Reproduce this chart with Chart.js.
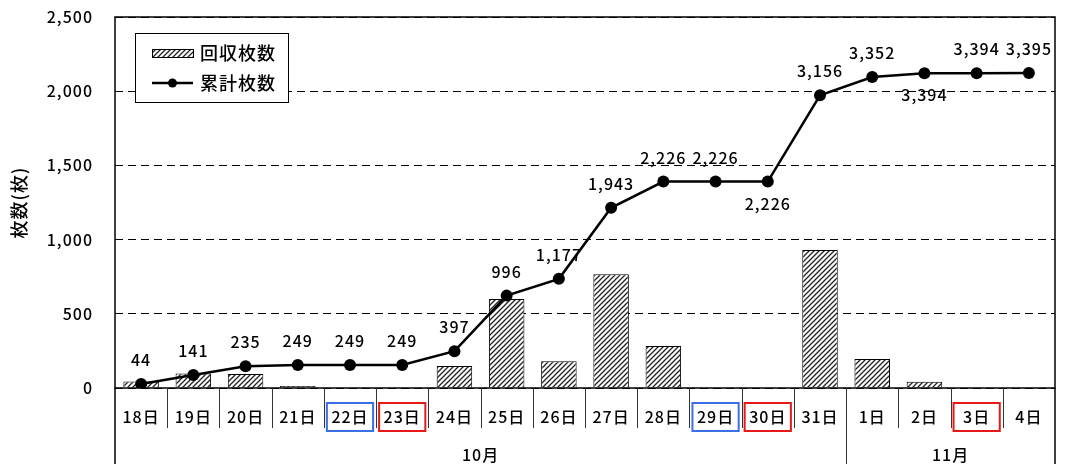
<!DOCTYPE html>
<html lang="ja">
<head>
<meta charset="utf-8">
<script src="https://cdn.jsdelivr.net/npm/chart.js@4/dist/chart.umd.min.js"></script>
<style>
  html, body { margin: 0; padding: 0; background: #fff; }
  #wrap { width: 1070px; height: 464px; }
</style>
</head>
<body>
<div id="wrap"><canvas id="chart"></canvas></div>
<script>
// days shown on the x axis
const days = ["18日", "19日", "20日", "21日", "22日", "23日", "24日", "25日", "26日",
  "27日", "28日", "29日", "30日", "31日", "1日", "2日", "3日", "4日"];
// 回収枚数 (daily)
const collected = [44, 97, 94, 14, 0, 0, 148, 599, 181, 766, 283, 0, 0, 930, 196, 42, 0, 1];
// 累計枚数 (running total)
const totals = [44, 141, 235, 249, 249, 249, 397, 996, 1177, 1943, 2226, 2226, 2226, 3156, 3352, 3394, 3394, 3395];
// month groups under the day labels
const months = ["10月", "11月"];
const monthStart = [0, 14];
// days with a box around the label
const blueDays = ["22日", "29日"];
const redDays = ["23日", "30日", "3日"];
// point labels drawn under the point instead of above
const labelBelow = [12, 15];

const FONT = "'Noto Sans CJK JP', 'Noto Sans', sans-serif";

function hatch() {
  const c = document.createElement("canvas");
  c.width = 5; c.height = 5;
  const g = c.getContext("2d");
  g.fillStyle = "#fff";
  g.fillRect(0, 0, 5, 5);
  g.strokeStyle = "#222";
  g.lineWidth = 1.3;
  g.beginPath();
  g.moveTo(-1, 6); g.lineTo(6, -1);
  g.moveTo(-1, 1); g.lineTo(1, -1);
  g.moveTo(4, 6); g.lineTo(6, 4);
  g.stroke();
  return g.createPattern(c, "repeat");
}
const hatchFill = hatch();

const decor = {
  id: "decor",
  beforeDraw(chart) {
    chart.ctx.letterSpacing = "1px";
  },
  afterDatasetsDraw(chart) {
    const ctx = chart.ctx;
    const meta = chart.getDatasetMeta(1);
    ctx.save();
    ctx.font = "500 16px " + FONT;
    ctx.fillStyle = "#000";
    ctx.textAlign = "center";
    ctx.textBaseline = "middle";
    meta.data.forEach((pt, i) => {
      const y = labelBelow.includes(i) ? pt.y + 22 : pt.y - 24;
      ctx.fillText(totals[i].toLocaleString("en-US"), pt.x, y);
    });
    ctx.restore();
  },
  afterDraw(chart) {
    const ctx = chart.ctx;
    const a = chart.chartArea;
    const x = chart.scales.x;
    const step = (a.right - a.left) / days.length;
    const H = chart.height;
    ctx.save();

    // plot frame
    ctx.strokeStyle = "#000";
    ctx.lineWidth = 1.5;
    ctx.strokeRect(a.left, a.top, a.right - a.left, a.bottom - a.top);

    // category table below the plot
    ctx.beginPath();
    ctx.moveTo(a.left, a.bottom); ctx.lineTo(a.left, H);
    ctx.moveTo(a.right, a.bottom); ctx.lineTo(a.right, H);
    ctx.stroke();
    ctx.lineWidth = 1;
    ctx.strokeStyle = "#333";
    ctx.beginPath();
    for (let i = 1; i < days.length; i++) {
      const bx = Math.round(a.left + i * step) + 0.5;
      ctx.moveTo(bx, a.bottom);
      ctx.lineTo(bx, monthStart.includes(i) ? H : a.bottom + 40);
    }
    ctx.stroke();

    ctx.font = "500 16px " + FONT;
    ctx.fillStyle = "#000";
    ctx.textAlign = "center";
    ctx.textBaseline = "middle";
    days.forEach((d, i) => {
      const cx = x.getPixelForValue(i);
      ctx.fillText(d, cx, a.bottom + 29);
      let col = null;
      if (blueDays.includes(d)) col = "#3a6fe6";
      if (redDays.includes(d)) col = "#e81818";
      if (col) {
        ctx.strokeStyle = col;
        ctx.lineWidth = 2;
        ctx.strokeRect(a.left + i * step + 3, a.bottom + 15, step - 6, 28);
      }
    });
    months.forEach((m, k) => {
      const s = monthStart[k];
      const e = k + 1 < monthStart.length ? monthStart[k + 1] : days.length;
      const cx = a.left + (s + e) / 2 * step;
      ctx.fillText(m, cx, a.bottom + 67);
    });

    // legend
    ctx.fillStyle = "#fff";
    ctx.fillRect(135, 33, 153, 69);
    ctx.strokeStyle = "#000";
    ctx.lineWidth = 1;
    ctx.strokeRect(135.5, 33.5, 153, 69);
    ctx.fillStyle = hatchFill;
    ctx.fillRect(152, 49, 41, 8);
    ctx.strokeRect(152.5, 49.5, 41, 8);
    ctx.lineWidth = 2.5;
    ctx.beginPath();
    ctx.moveTo(152, 83); ctx.lineTo(193, 83);
    ctx.stroke();
    ctx.fillStyle = "#000";
    ctx.beginPath();
    ctx.arc(172.5, 83, 4.5, 0, Math.PI * 2);
    ctx.fill();
    ctx.font = "500 18px " + FONT;
    ctx.textAlign = "left";
    ctx.fillText("回収枚数", 200, 53);
    ctx.fillText("累計枚数", 200, 83);
    ctx.restore();
  }
};

new Chart(document.getElementById("chart"), {
  data: {
    labels: days,
    datasets: [
      {
        type: "bar",
        label: "回収枚数",
        data: collected,
        backgroundColor: hatchFill,
        borderColor: "#000",
        borderWidth: 1,
        barPercentage: 0.68,
        categoryPercentage: 1,
        yAxisID: "y",
        order: 1
      },
      {
        type: "line",
        label: "累計枚数",
        data: totals,
        borderColor: "#000",
        borderWidth: 2.5,
        pointRadius: 6,
        pointBackgroundColor: "#000",
        pointBorderWidth: 0,
        tension: 0,
        yAxisID: "y2",
        order: 0
      }
    ]
  },
  options: {
    responsive: true,
    maintainAspectRatio: false,
    animation: false,
    layout: { padding: { left: 0, right: 15, top: 17, bottom: 0 } },
    plugins: {
      legend: { display: false },
      tooltip: { enabled: false }
    },
    scales: {
      x: {
        ticks: { display: false },
        grid: { display: false },
        border: { display: false },
        afterFit: s => { s.height = 76; }
      },
      y: {
        min: 0,
        max: 2500,
        afterFit: s => { s.width = 115; s.paddingTop = 0; s.paddingBottom = 0; },
        ticks: {
          stepSize: 500,
          padding: 22,
          color: "#000",
          font: { size: 16, weight: "500", family: FONT },
          callback: v => v.toLocaleString("en-US")
        },
        grid: {
          color: "#000",
          lineWidth: 1,
          drawTicks: false
        },
        border: { display: false, dash: [8, 5] },
        title: {
          display: true,
          text: "枚数(枚)",
          color: "#000",
          font: { size: 18, weight: "500", family: FONT },
          padding: { top: 8 }
        }
      },
      y2: {
        display: false,
        min: 0,
        max: 4000
      }
    }
  },
  plugins: [decor]
});
</script>
</body>
</html>
